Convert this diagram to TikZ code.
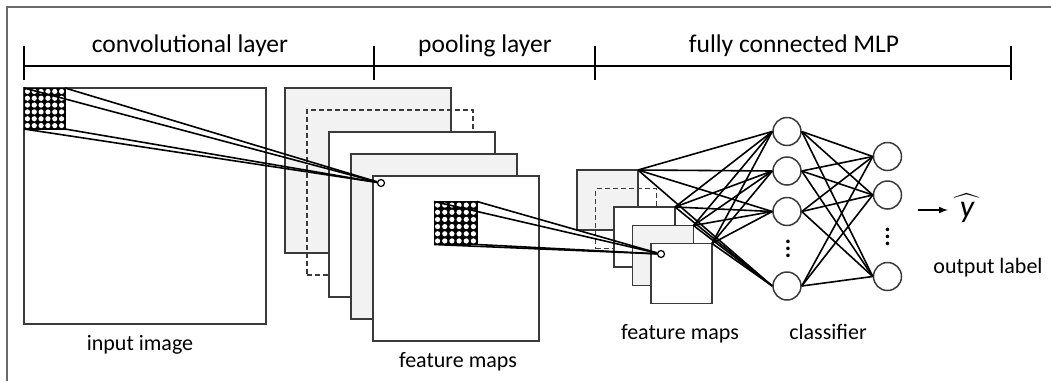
\documentclass[tikz,border=0pt]{standalone}
\usepackage{amsmath}
\usepackage{fontspec}
\setmainfont{Carlito}
\usetikzlibrary{arrows,positioning}

\definecolor{mapgray}{HTML}{F2F2F2}
\definecolor{edgegray}{HTML}{3A3A3A}
\definecolor{framegray}{HTML}{6A6A6A}
\newcommand{\tallvdots}{\vbox{\baselineskip=7pt \lineskiplimit=0pt
  \hbox{.}\hbox{.}\hbox{.}}}

\begin{document}
\begin{tikzpicture}[x=1pt, y=-1pt,
  fmap/.style={draw=edgegray, line width=1.6pt, minimum width=166pt,
    minimum height=165pt, inner sep=0pt, outer sep=0pt},
  pmap/.style={draw=edgegray, line width=1.6pt, minimum width=61pt,
    minimum height=60pt, inner sep=0pt, outer sep=0pt},
  ghost/.style={draw=edgegray, line width=1.4pt, dash pattern=on 5pt off 3pt},
  patch/.style={draw=black, fill=black, line width=1pt, minimum size=#1,
    inner sep=0pt, outer sep=0pt,
    path picture={\foreach \i in {0,...,5} \foreach \j in {0,...,5}
      \fill[white] ([xshift={(\i+0.5)*#1/6}, yshift={-(\j+0.5)*#1/6}]
        path picture bounding box.north west) circle (2.6pt);}},
  spot/.style={circle, draw=black, fill=white, line width=1.2pt,
    minimum size=7pt, inner sep=0pt},
  neuron/.style={circle, draw=edgegray, fill=white, line width=1.5pt,
    minimum size=28pt, inner sep=0pt},
  vdotsnode/.style={font=\fontsize{24}{24}\selectfont\bfseries, inner sep=0pt},
  link/.style={line width=1.6pt},
  head/.style={font=\fontsize{25.5}{28}\selectfont, anchor=base},
  lab/.style={font=\fontsize{22}{25}\selectfont, anchor=base}
]
  \useasboundingbox (0,0) rectangle (1051,381);
  \draw[framegray, line width=1.5pt] (7,381) -- (7,7) -- (1051,7);

  % ruler with the three stages
  \draw[line width=1.8pt] (24,66) -- (1011,66);
  \foreach \x in {24,374,595,1011}
    \draw[line width=1.8pt] (\x,46) -- (\x,80);
  \node[head] (hconv) at (190,52) {convolutional layer};
  \node[head] (hpool) at (485,52) {pooling layer};
  \node[head] (hmlp)  at (794,52) {fully connected MLP};

  % input image and convolution
  \node[draw=edgegray, line width=1.6pt, minimum width=242pt, minimum height=236pt,
    inner sep=0pt, outer sep=0pt, fill=white] (img) at (145,206) {};
  \node[lab] (limg) at (140,350) {input image};

  \node[fmap, fill=mapgray] (fm1) at (368,170.5) {};
  \node[fmap, ghost] (fmd) at (390,192.5) {};
  \node[fmap, fill=white]   (fm2) at (412,214.5) {};
  \node[fmap, fill=mapgray] (fm3) at (434,236.5) {};
  \node[fmap, fill=white]   (fm4) at (456,258.5) {};
  \node[lab] (lfm) at (458,367) {feature maps};

  \node[patch=41pt] (p1) at (44.5,108.5) {};
  \node[spot] (s1) at (381,183) {};
  \draw[link] (p1.north west) -- (s1);
  \draw[link] (p1.north east) -- (s1);
  \draw[link] (p1.south west) -- (s1);
  \draw[link] (p1.south east) -- (s1);

  % pooling
  \node[pmap, fill=mapgray] (pm1) at (607.5,200) {};
  \node[pmap, ghost] (pmd) at (626,218.5) {};
  \node[pmap, fill=white]   (pm2) at (644.5,237) {};
  \node[pmap, fill=mapgray] (pm3) at (663,255.5) {};
  \node[pmap, fill=white]   (pm4) at (681.5,273.5) {};
  \node[lab] (lpm) at (680,339) {feature maps};

  \node[patch=43pt] (p2) at (455.5,223) {};
  \node[spot] (s2) at (661,254) {};
  \draw[link] (p2.north west) -- (s2);
  \draw[link] (p2.north east) -- (s2);
  \draw[link] (p2.south west) -- (s2);
  \draw[link] (p2.south east) -- (s2);

  % multilayer perceptron
  \node[neuron] (h1) at (787,131.5) {};
  \node[neuron] (h2) at (787,171) {};
  \node[neuron] (h3) at (787,211.5) {};
  \node[neuron] (h4) at (787,286) {};
  \node[vdotsnode] (hdots) at (788,249) {\tallvdots};
  \node[neuron] (o1) at (887.5,156.5) {};
  \node[neuron] (o2) at (887.5,195) {};
  \node[neuron] (o3) at (887.5,276.5) {};
  \node[vdotsnode] (odots) at (887.5,237) {\tallvdots};
  \node[lab] (lcls) at (828,339) {classifier};

  \foreach \s in {pm1,pm2,pm3,pm4}
    \foreach \t in {h1,h2,h3,h4}
      \draw[link] (\s.north east) -- (\t.west);
  \foreach \s in {h1,h2,h3,h4}
    \foreach \t in {o1,o2,o3}
      \draw[link] (\s.east) -- (\t.west);

  % output
  \node[font=\fontsize{32}{34}\selectfont, inner sep=0pt] (yhat) at (967,208)
    {$\widehat{\makebox[1em]{\itshape y}}$};
  \coordinate (ytail) at (918,210);
  \draw[-latex, line width=2pt] (ytail) -- ([xshift=-3pt]yhat.west |- ytail);
  \node[lab] (lout) at (988,273) {output label};
\end{tikzpicture}
\end{document}
